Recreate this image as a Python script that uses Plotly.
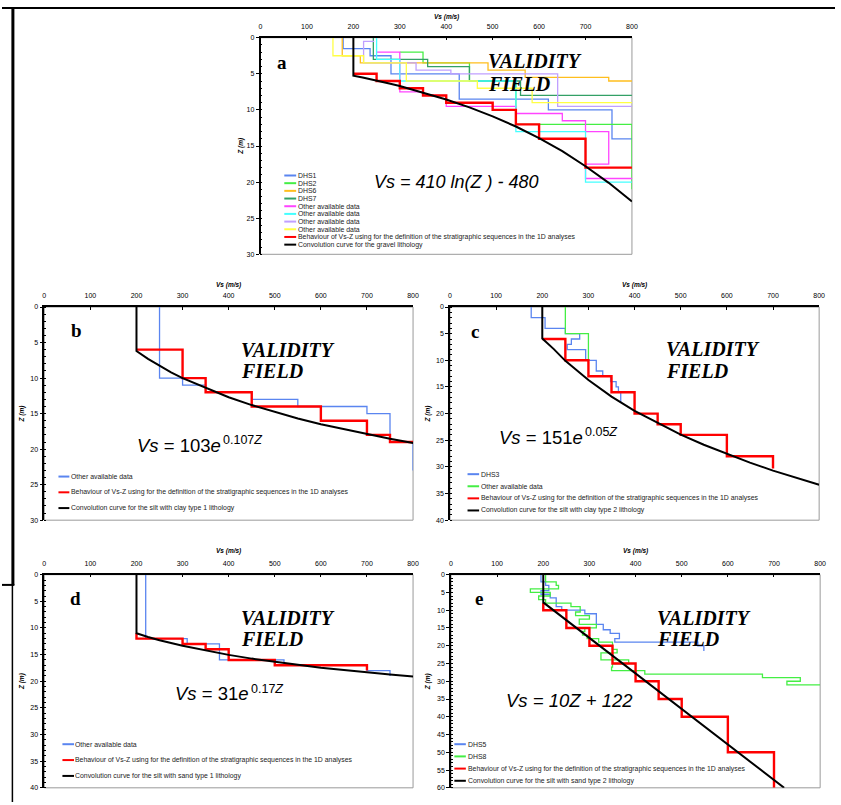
import plotly.graph_objects as go

W, H = 841, 805

# ======================= DATA =======================
# ---- panel a : gravel ----
a_dhs1_vs = [178, 178, 236, 236, 281, 281, 428, 428, 620, 620, 757, 757, 800]
a_dhs1_z = [0, 1.5, 1.5, 2.5, 2.5, 5, 5, 8.5, 8.5, 10, 10, 14, 14]
a_dhs2_vs = [300, 350, 350, 450, 450, 550, 550, 800, 800]
a_dhs2_z = [2, 2, 3.5, 3.5, 6, 6, 12, 12, 21]
a_dhs6_vs = [176, 176, 215, 215, 490, 490, 570, 570, 750, 750, 800]
a_dhs6_z = [0, 2.5, 2.5, 3.5, 3.5, 4.5, 4.5, 5.5, 5.5, 6, 6]
a_dhs7_vs = [243, 243, 360, 360, 450, 450, 560, 560, 800]
a_dhs7_z = [0, 3, 3, 4, 4, 6, 6, 8, 8]
a_oth1_vs = [250, 300, 300, 350, 350, 400, 400, 550, 550, 650, 650, 700, 700, 750, 750, 700, 700, 800]
a_oth1_z = [2, 2, 7.5, 7.5, 8, 8, 9.5, 9.5, 10.5, 10.5, 11.5, 11.5, 13, 13, 17.5, 17.5, 19.5, 19.5]
a_oth2_vs = [250, 250, 300, 300, 550, 550, 700, 700, 800]
a_oth2_z = [0, 3, 3, 6, 6, 13, 13, 20, 20]
a_oth3_vs = [245, 222, 222, 335, 335, 410, 410, 640, 640, 800]
a_oth3_z = [0.5, 0.5, 3.5, 3.5, 4.5, 4.5, 5, 5, 9.5, 9.5]
a_oth4_vs = [156, 156, 222, 222, 314, 314, 467, 467, 585, 585, 800]
a_oth4_z = [0, 2.5, 2.5, 3.5, 3.5, 6, 6, 7, 7, 9, 9]
a_red_vs = [200, 250, 250, 300, 300, 350, 350, 400, 400, 500, 500, 550, 550, 600, 600, 700, 700, 800]
a_red_z = [5, 5, 6, 6, 7, 7, 8, 8, 9, 9, 10, 10, 12, 12, 14, 14, 18, 18]
a_conv_vs = [200, 200, 220, 250, 275, 300, 350, 400, 450, 500, 550, 600, 650, 700, 750, 800]
a_conv_z = [0, 5.25, 5.5, 5.9, 6.3, 6.7, 7.6, 8.55, 9.65, 10.9, 12.3, 13.9, 15.7, 17.8, 20.1, 22.7]

# ---- panel b : silt with clay type 1 ----
b_oth_vs = [250, 250, 300, 300, 350, 350, 450, 450, 550, 550, 700, 700, 750, 750, 800, 800]
b_oth_z = [0, 10, 10, 11, 11, 12, 12, 13, 13, 14, 14, 15, 15, 19, 19, 23]
b_red_vs = [200, 300, 300, 350, 350, 450, 450, 600, 600, 700, 700, 750, 750, 800]
b_red_z = [6, 6, 10, 10, 12, 12, 14, 14, 16, 16, 18, 18, 19, 19]
b_conv_vs = [200, 200, 225, 250, 275, 300, 350, 400, 450, 500, 550, 600, 650, 700, 750, 800]
b_conv_z = [0, 6.2, 7.3, 8.3, 9.2, 10.0, 11.4, 12.7, 13.8, 14.8, 15.7, 16.5, 17.2, 17.9, 18.55, 19.15]

# ---- panel c : silt with clay type 2 ----
c_dhs3_vs = [176, 176, 206, 206, 250, 250, 281, 281, 263, 263, 254, 254, 294, 294, 317, 317,
             331, 331, 348, 348, 360, 360, 365, 365, 370, 370]
c_dhs3_z = [0, 2, 2, 4, 4, 5, 5, 6, 6, 7, 7, 8, 8, 10, 10, 12, 12, 13, 13, 14, 14, 15, 15, 16, 16, 18]
c_oth_vs = [250, 250, 300, 300]
c_oth_z = [0, 5, 5, 10]
c_red_vs = [200, 250, 250, 300, 300, 350, 350, 400, 400, 450, 450, 500, 500, 600, 600, 700, 700]
c_red_z = [6, 6, 10, 10, 13, 13, 16, 16, 20, 20, 22, 22, 24, 24, 28, 28, 30.3]
c_conv_vs = [200, 200, 225, 250, 300, 350, 400, 450, 500, 550, 600, 650, 700, 750, 800]
c_conv_z = [0, 5.9, 7.9, 10.1, 13.7, 16.8, 19.5, 21.8, 23.95, 25.85, 27.6, 29.2, 30.7, 32.05, 33.35]

# ---- panel d : silt with sand type 1 ----
d_oth_vs = [220, 220, 310, 310, 380, 380, 520, 520, 700, 700, 750, 750]
d_oth_z = [0, 12, 12, 13, 13, 16, 16, 17, 17, 18, 18, 19]
d_red_vs = [200, 200, 300, 300, 350, 350, 400, 400, 500, 500, 700, 700]
d_red_z = [11, 12, 12, 13, 13, 14, 14, 16, 16, 17, 17, 18]
d_conv_vs = [200, 200, 225, 250, 300, 350, 400, 450, 500, 550, 600, 650, 700, 750, 800]
d_conv_z = [0, 11.0, 11.7, 12.3, 13.35, 14.25, 15.05, 15.75, 16.35, 16.9, 17.45, 17.9, 18.35, 18.75, 19.1]

# ---- panel e : silt with sand type 2 ----
e_dhs5_vs = [195, 195, 205, 205, 212, 212, 195, 195, 215, 215, 228, 228, 240, 240, 290, 290, 315, 315,
             330, 330, 345, 345, 365, 365, 355, 355, 535, 535, 548, 548]
e_dhs5_z = [0, 2, 2, 3, 3, 4.5, 4.5, 5.5, 5.5, 6.5, 6.5, 9, 9, 10, 10, 11, 11, 14,
            14, 15.5, 15.5, 16.5, 16.5, 18, 18, 19, 19, 20, 20, 21.5]
e_dhs8_vs = [205, 205, 228, 228, 233, 233, 172, 172, 215, 215, 190, 190, 205, 205, 260, 260, 280, 280,
             270, 270, 300, 300, 278, 278, 315, 315, 290, 290, 285, 285, 295, 295, 320, 320, 350, 350,
             360, 360, 325, 325, 385, 385, 350, 350, 348, 348, 420, 420, 675, 675, 757, 757, 728, 728, 800]
e_dhs8_z = [0, 2, 2, 3, 3, 4, 4, 5, 5, 6, 6, 7, 7, 8, 8, 9, 9, 10.5,
            10.5, 11.5, 11.5, 12.5, 12.5, 14, 14, 15, 15, 16, 16, 17, 17, 18, 18, 19, 19, 21,
            21, 22, 22, 24, 24, 25, 25, 26, 26, 27, 27, 28, 28, 29, 29, 30, 30, 31, 31]
e_red_vs = [200, 200, 250, 250, 300, 300, 350, 350, 400, 400, 450, 450, 500, 500, 600, 600, 700, 700]
e_red_z = [8, 10, 10, 15, 15, 20, 20, 25, 25, 30, 30, 35, 35, 40, 40, 50, 50, 60]
e_conv_vs = [200, 200, 722]
e_conv_z = [0, 7.8, 60]

# ---- texts ----
x_tick_vals = [0, 100, 200, 300, 400, 500, 600, 700, 800]
x_title = "Vs (m/s)"
y_title = "Z (m)"
lbl_red = "Behaviour of Vs-Z using for the definition of the stratigraphic sequences in the 1D analyses"
a_labels = ["DHS1", "DHS2", "DHS6", "DHS7", "Other available data", "Other available data",
            "Other available data", "Other available data", lbl_red,
            "Convolution curve for the gravel lithology"]
b_labels = ["Other available data", lbl_red, "Convolution curve for the silt with clay type 1 lithology"]
c_labels = ["DHS3", "Other available data", lbl_red, "Convolution curve for the silt with clay type 2 lithology"]
d_labels = ["Other available data", lbl_red, "Convolution curve for the silt with sand type 1 lithology"]
e_labels = ["DHS5", "DHS8", lbl_red, "Convolution curve for the silt with sand type 2 lithology"]
# equation: base text, exponent text (or None)
equations = {
    'a': ("<i>Vs = 410 ln(Z ) - 480</i>", None),
    'b': ("<i>Vs</i> = 103<i>e</i>", "0.107<i>Z</i>"),
    'c': ("<i>Vs</i> = 151<i>e</i>", "0.05<i>Z</i>"),
    'd': ("<i>Vs</i> = 31<i>e</i>", "0.17<i>Z</i>"),
    'e': ("<i>Vs = 10Z + 122</i>", None),
}

# ======================= STYLE / LAYOUT =======================
BLUE, GREEN, ORANGE, DKGREEN = "#5A85F0", "#44EE44", "#FFBE1E", "#33A066"
MAGENTA, CYAN, LAVENDER, YELLOW = "#FF44FF", "#44FFFF", "#C0A0FF", "#FFFF44"
RED, BLACK = "#FF0000", "#000000"
SANS, SERIF = "Liberation Sans", "Liberation Serif"


def fx(px):
    return px / W


def fy(py):
    return 1 - py / H


panels = {
    # idx, x px range, y px range, zmax
    'a': (1, (261, 636), (34, 252.5), 30),
    'b': (2, (42.7, 415), (305.7, 520.7), 30),
    'c': (3, (452.3, 825), (305.7, 520.7), 40),
    'd': (4, (42.7, 415), (575.7, 790.7), 40),
    'e': (5, (453.3, 826), (575.7, 790.7), 60),
}

series = {
    'a': [(a_dhs1_vs, a_dhs1_z, BLUE, 1.3), (a_dhs2_vs, a_dhs2_z, GREEN, 1.3),
          (a_dhs6_vs, a_dhs6_z, ORANGE, 1.3), (a_dhs7_vs, a_dhs7_z, DKGREEN, 1.3),
          (a_oth1_vs, a_oth1_z, MAGENTA, 1.3), (a_oth2_vs, a_oth2_z, CYAN, 1.3),
          (a_oth3_vs, a_oth3_z, LAVENDER, 1.3), (a_oth4_vs, a_oth4_z, YELLOW, 1.3),
          (a_red_vs, a_red_z, RED, 2.4), (a_conv_vs, a_conv_z, BLACK, 2)],
    'b': [(b_oth_vs, b_oth_z, BLUE, 1.3), (b_red_vs, b_red_z, RED, 2.4), (b_conv_vs, b_conv_z, BLACK, 2)],
    'c': [(c_dhs3_vs, c_dhs3_z, BLUE, 1.3), (c_oth_vs, c_oth_z, GREEN, 1.3),
          (c_red_vs, c_red_z, RED, 2.4), (c_conv_vs, c_conv_z, BLACK, 2)],
    'd': [(d_oth_vs, d_oth_z, BLUE, 1.3), (d_red_vs, d_red_z, RED, 2.4), (d_conv_vs, d_conv_z, BLACK, 2)],
    'e': [(e_dhs5_vs, e_dhs5_z, BLUE, 1.3), (e_dhs8_vs, e_dhs8_z, GREEN, 1.3),
          (e_red_vs, e_red_z, RED, 2.4), (e_conv_vs, e_conv_z, BLACK, 2)],
}

legends = {
    # labels, colors, line x0, x1, text x, first row y, row step
    'a': (a_labels, [BLUE, GREEN, ORANGE, DKGREEN, MAGENTA, CYAN, LAVENDER, YELLOW, RED, BLACK],
          285, 297, 298, 173, 7.75),
    'b': (b_labels, [BLUE, RED, BLACK], 57, 68, 69, 476.7, 15.9),
    'c': (c_labels, [BLUE, GREEN, RED, BLACK], 470, 481.7, 483, 474.3, 12.2),
    'd': (d_labels, [BLUE, RED, BLACK], 61, 72.7, 73, 746.7, 16),
    'e': (e_labels, [BLUE, GREEN, RED, BLACK], 456.7, 468.3, 469, 746.7, 12.3),
}

# text positions (px)
letter_pos = {'a': (283, 59), 'b': (75, 329), 'c': (478, 330), 'd': (74, 600), 'e': (482, 600)}
validity_pos = {'a': (490, 58, 80.7), 'b': (240, 349, 370.7), 'c': (669, 348.3, 370),
                'd': (240, 619, 640.7), 'e': (660, 619, 640.7)}
# base: (x, y, anchor, size); exponent: (x_left, y)
eq_pos = {'a': ((459, 180, "center", 18), None),
          'b': ((222.5, 445, "right", 18.5), (222.5, 439.5)),
          'c': ((588, 437, "right", 18.5), (588, 431.5)),
          'd': ((250.7, 696, "right", 18.5), (250.7, 691)),
          'e': ((572.5, 703, "center", 18.5), None)}
xtitle_y = {'a': 12.7, 'b': 283, 'c': 283, 'd': 551.7, 'e': 551.7}
ytitle_x = {'a': 241, 'b': 20, 'c': 430, 'd': 20, 'e': 430}

fig = go.Figure()
shapes, annotations = [], []
layout = dict(width=W, height=H, margin=dict(l=0, r=0, t=0, b=0),
              paper_bgcolor="white", plot_bgcolor="white", showlegend=False)

for key, (idx, (xl, xr), (yt, yb), zmax) in panels.items():
    sx = "" if idx == 1 else str(idx)
    for vs, z, col, lw in series[key]:
        fig.add_trace(go.Scatter(x=vs, y=z, mode="lines", xaxis="x" + sx, yaxis="y" + sx,
                                 line=dict(color=col, width=lw), hoverinfo="skip"))
    layout["xaxis" + sx] = dict(
        domain=[fx(xl), fx(xr)], range=[0, 800], side="top", anchor="y" + sx,
        tickvals=x_tick_vals, ticks="inside", ticklen=3, tickcolor="black",
        showline=True, linecolor="black", linewidth=1.5, showgrid=False, zeroline=False,
        tickfont=dict(family=SANS, size=7, color="black"), ticklabelstandoff=4, fixedrange=True)
    layout["yaxis" + sx] = dict(
        domain=[fy(yb), fy(yt)], range=[zmax, 0], anchor="x" + sx,
        dtick=5, ticks="outside", ticklen=3, tickcolor="black",
        minor=dict(dtick=1, ticks="inside", ticklen=2, tickcolor="black", showgrid=False),
        showline=True, linecolor="black", linewidth=1.5, showgrid=False, zeroline=False,
        tickfont=dict(family=SANS, size=7, color="black"), fixedrange=True)
    # gray plot frame (right/bottom)
    shapes.append(dict(type="rect", xref="x%s domain" % sx, yref="y%s domain" % sx,
                       x0=0, x1=1, y0=0, y1=1, line=dict(color="#9a9a9a", width=1), layer="below"))
    # axis titles
    annotations.append(dict(text="<b><i>%s</i></b>" % x_title, xref="paper", yref="paper",
                            x=fx((xl + xr) / 2), y=fy(xtitle_y[key]), showarrow=False,
                            xanchor="center", yanchor="middle",
                            font=dict(family=SANS, size=6.5, color="black")))
    annotations.append(dict(text="<b><i>%s</i></b>" % y_title, xref="paper", yref="paper",
                            x=fx(ytitle_x[key]), y=fy((yt + yb) / 2), showarrow=False, textangle=-90,
                            xanchor="center", yanchor="middle",
                            font=dict(family=SANS, size=6.5, color="black")))
    # panel letter
    lx, ly = letter_pos[key]
    annotations.append(dict(text="<b>%s</b>" % key, xref="paper", yref="paper", x=fx(lx), y=fy(ly),
                            showarrow=False, xanchor="center", yanchor="middle",
                            font=dict(family=SERIF, size=19, color="black")))
    # validity field
    vx, vy1, vy2 = validity_pos[key]
    for txt, vy in (("VALIDITY", vy1), ("FIELD", vy2)):
        annotations.append(dict(text="<b><i>%s</i></b>" % txt, xref="paper", yref="paper",
                                x=fx(vx), y=fy(vy), showarrow=False, xanchor="left", yanchor="middle",
                                borderpad=0, font=dict(family=SERIF, size=20, color="black")))
    # equation
    base_txt, exp_txt = equations[key]
    (bx, by, banchor, bsize), epos = eq_pos[key]
    annotations.append(dict(text=base_txt, xref="paper", yref="paper", x=fx(bx), y=fy(by),
                            showarrow=False, xanchor=banchor, yanchor="middle", borderpad=0,
                            font=dict(family=SANS, size=bsize, color="black")))
    if exp_txt is not None:
        annotations.append(dict(text=exp_txt, xref="paper", yref="paper", x=fx(epos[0]), y=fy(epos[1]),
                                showarrow=False, xanchor="left", yanchor="middle", borderpad=0,
                                font=dict(family=SANS, size=12.5, color="black")))
    # manual legend
    labels, cols, lx0, lx1, tx, ry0, rstep = legends[key]
    for i, (lab, col) in enumerate(zip(labels, cols)):
        ry = ry0 + i * rstep
        shapes.append(dict(type="line", xref="paper", yref="paper", x0=fx(lx0), x1=fx(lx1),
                           y0=fy(ry), y1=fy(ry), line=dict(color=col, width=2)))
        annotations.append(dict(text=lab, xref="paper", yref="paper", x=fx(tx), y=fy(ry),
                                showarrow=False, xanchor="left", yanchor="middle", borderpad=0,
                                font=dict(family=SANS, size=6.9, color="#222")))

# page border lines
for (x0, y0, x1, y1, w) in [(0, 4, 841, 4, 2), (11, 4, 11, 586, 3), (0, 586, 12.5, 586, 2),
                            (10.5, 586, 10.5, 805, 1.5)]:
    shapes.append(dict(type="line", xref="paper", yref="paper", x0=fx(x0), x1=fx(x1),
                       y0=fy(y0), y1=fy(y1), line=dict(color="black", width=w)))

layout["shapes"] = shapes
layout["annotations"] = annotations
fig.update_layout(**layout)
fig.write_html("out.html", config={"displayModeBar": False},
               post_script="document.body.style.margin='0';document.body.style.overflow='hidden';")
